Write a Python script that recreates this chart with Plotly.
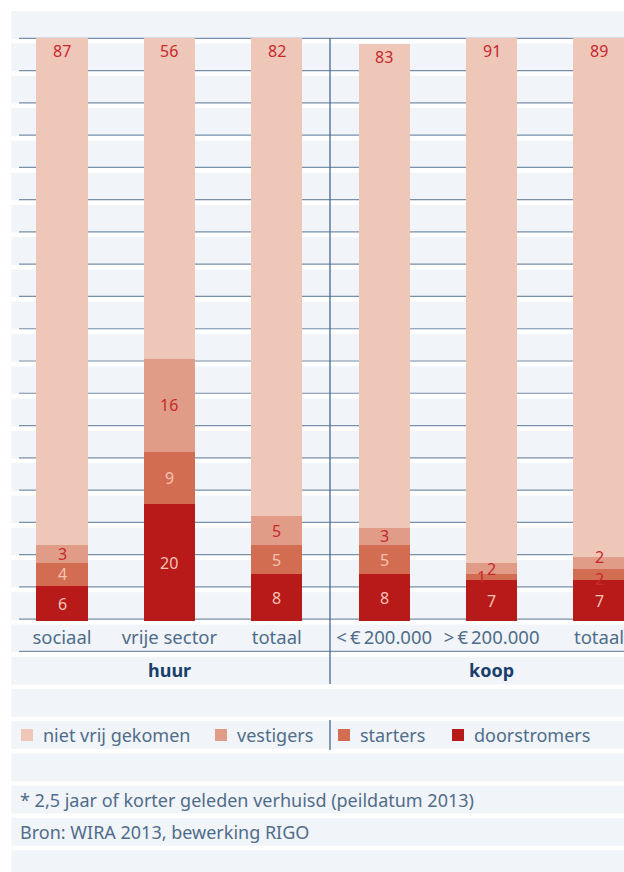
import plotly.graph_objects as go

# ---- data -------------------------------------------------------------
categories = ["sociaal", "vrije sector", "totaal",
              "<\u2009€\u2009200.000", ">\u2009€\u2009200.000", "totaal"]
groups = ["huur", "koop"]
doorstromers = [6, 20, 8, 8, 7, 7]
starters = [4, 9, 5, 5, 1, 2]
vestigers = [3, 16, 5, 3, 2, 2]
niet_vrij_gekomen = [87, 56, 82, 83, 91, 89]
footnote = "* 2,5 jaar of korter geleden verhuisd (peildatum 2013)"
source = "Bron: WIRA 2013, bewerking RIGO"

# ---- styling ----------------------------------------------------------
W, H = 624, 872
L, R, T, B = 12, 0, 38, 251
PW, PH = W - L - R, H - T - B
FONT = "Noto Sans"
BG = "#f1f4f8"
GRID = "#7891ab"
DIVIDER = "#4a6a8c"
TEXT = "#4f6d8a"
TITLE = "#1b3f6c"
RED_TXT = "#c8282d"
LIGHT_TXT = "#f4c3b3"

series = [
    ("doorstromers", doorstromers, "#b81a1a"),
    ("starters", starters, "#d36d51"),
    ("vestigers", vestigers, "#e09c86"),
    ("niet vrij gekomen", niet_vrij_gekomen, "#eec7b8"),
]


def px(x):
    """pixel x -> paper x"""
    return (x - L) / PW


def py(y):
    """pixel y -> paper y"""
    return (H - B - y) / PH


fig = go.Figure()
xs = list(range(len(categories)))
for name, vals, col in series:
    fig.add_trace(go.Bar(
        x=xs, y=vals, name=name, width=0.475,
        marker=dict(color=col, line=dict(width=0)),
        showlegend=False, hovertemplate=name + ": %{y}<extra></extra>",
    ))

shapes = []
# striped background panel
shapes.append(dict(type="rect", xref="paper", yref="paper", layer="below",
                   x0=px(11.3), x1=px(W), y0=py(11), y1=py(H),
                   fillcolor=BG, line=dict(width=0)))
PERIOD = 32.27
for k in range(26):
    g = 38.3 + PERIOD * k
    shapes.append(dict(type="rect", xref="paper", yref="paper", layer="below",
                       x0=px(11.3), x1=px(W), y0=py(g + 0.7), y1=py(g + 5.3),
                       fillcolor="white", line=dict(width=0)))
    if k <= 19:
        shapes.append(dict(type="line", xref="paper", yref="paper", layer="below",
                           x0=px(19), x1=px(W), y0=py(g), y1=py(g),
                           line=dict(color=GRID, width=1.2)))
# group divider and legend divider
shapes.append(dict(type="line", xref="paper", yref="paper", layer="above",
                   x0=px(330), x1=px(330), y0=py(38), y1=py(684),
                   line=dict(color=DIVIDER, width=1.3)))
shapes.append(dict(type="line", xref="paper", yref="paper", layer="above",
                   x0=px(330), x1=px(330), y0=py(720), y1=py(750),
                   line=dict(color=DIVIDER, width=1.3)))

annotations = []
# value labels on the bar segments
label_shift = {("starters", 4): (-10, 0),
               ("vestigers", 5): (0, 6), ("starters", 5): (0, -5)}
for i in xs:
    base = 0
    for name, vals, col in series:
        v = vals[i]
        top = base + v
        dx, dy = label_shift.get((name, i), (0, 0))
        if name == "niet vrij gekomen":
            y, shift = min(top, 100), -13
            color = RED_TXT
        else:
            y, shift = base + v / 2, 0
            dark = name in ("doorstromers", "starters") and v >= 3
            color = LIGHT_TXT if dark else RED_TXT
        annotations.append(dict(
            x=i, y=y, xref="x", yref="y", text=str(v), showarrow=False,
            xanchor="center", yanchor="middle", xshift=dx, yshift=shift + dy,
            font=dict(family=FONT, size=16, color=color)))
        base = top

# group labels
for gi, g in enumerate(groups):
    annotations.append(dict(
        x=1 + 3 * gi, y=py(670), xref="x", yref="paper", text="<b>%s</b>" % g,
        showarrow=False, xanchor="center", yanchor="middle",
        font=dict(family=FONT, size=18, color=TITLE)))

# legend
legend_x = [21, 215, 338, 452]
for (name, vals, col), lx in zip(reversed(series), legend_x):
    shapes.append(dict(type="rect", xref="paper", yref="paper", layer="above",
                       x0=px(lx), x1=px(lx + 12), y0=py(729), y1=py(741),
                       fillcolor=col, line=dict(width=0)))
    annotations.append(dict(
        x=px(lx + 20), y=py(735), xref="paper", yref="paper", text=name,
        showarrow=False, xanchor="left", yanchor="middle",
        font=dict(family=FONT, size=18, color=TEXT)))

# notes
for txt, yc in ((footnote, 800), (source, 832)):
    annotations.append(dict(
        x=px(18), y=py(yc), xref="paper", yref="paper", text=txt,
        showarrow=False, xanchor="left", yanchor="middle",
        font=dict(family=FONT, size=18, color=TEXT)))

step = 107.4
fig.update_layout(
    width=W, height=H, barmode="stack",
    margin=dict(l=L, r=R, t=T, b=B, pad=0),
    paper_bgcolor="white", plot_bgcolor="rgba(0,0,0,0)",
    shapes=shapes, annotations=annotations,
    xaxis=dict(range=[(12 - 62) / step, (624 - 62) / step],
               tickvals=xs, ticktext=categories, ticks="",
               ticklabeloverflow="allow", ticklabelstandoff=3,
               showgrid=False, zeroline=False, showline=False,
               tickfont=dict(family=FONT, size=18.5, color=TEXT),
               fixedrange=True),
    yaxis=dict(range=[0, 100], visible=False, fixedrange=True),
    font=dict(family=FONT),
)

fig.write_html("out.html")
